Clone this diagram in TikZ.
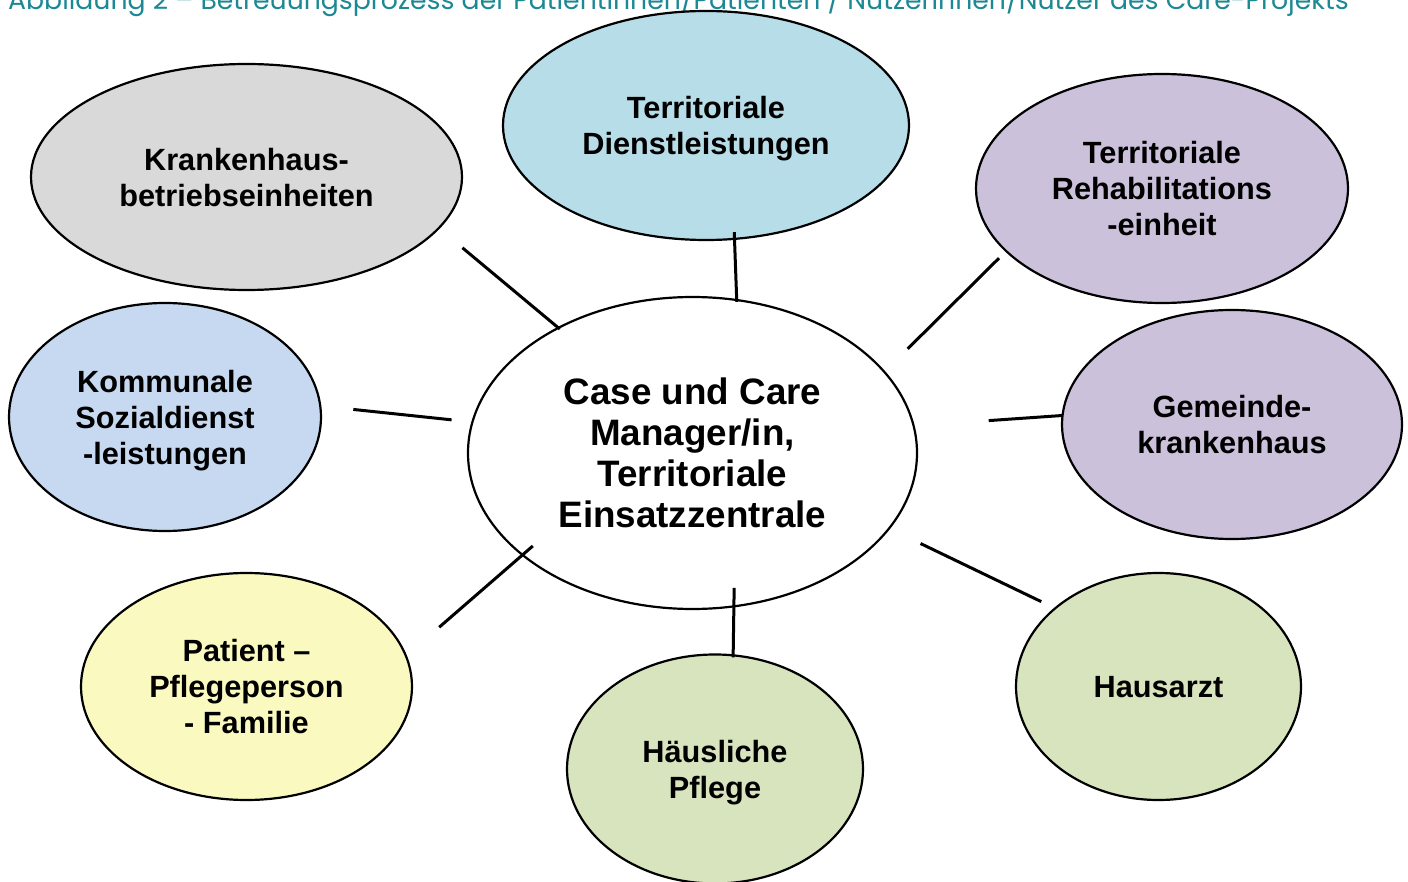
\documentclass[tikz,border=0pt]{standalone}
\usepackage{fontspec}
\setmainfont{Liberation Sans}
\newfontfamily\capfont{Poppins}
\usetikzlibrary{shapes.geometric}

\definecolor{capteal}{RGB}{28,136,148}
\definecolor{khgray}{RGB}{217,217,217}
\definecolor{tdblue}{RGB}{183,221,232}
\definecolor{trlilac}{RGB}{204,193,218}
\definecolor{ksblue}{RGB}{198,217,241}
\definecolor{pfyellow}{RGB}{250,250,192}
\definecolor{hpgreen}{RGB}{215,228,189}

\begin{document}
\begin{tikzpicture}[
x=1pt, y=-1pt,
font=\bfseries\fontsize{30.7}{36}\selectfont,
blob/.style={
    ellipse, draw=black, line width=2.2pt, inner sep=0pt, align=center, text depth=0pt},
link/.style={line width=3pt},
]

\useasboundingbox (0,0) rectangle (1408,882);
\clip (0,0) rectangle (1408,882);

\node[font=\capfont\fontsize{26.7}{30}\selectfont, text=capteal, anchor=base west, inner sep=0pt] (cap) at (8,10)
  {Abbildung 2 – Betreuungsprozess der Patientinnen/Patienten / Nutzerinnen/Nutzer des Care-Projekts};

\node[blob, fill=khgray, minimum width=431pt, minimum height=226pt] (kh) at (246.5,177) {Krankenhaus-\\betriebseinheiten};
\node[blob, fill=tdblue, minimum width=406pt, minimum height=229pt] (td) at (706,125.5) {Territoriale\\Dienstleistungen};
\node[blob, fill=trlilac, minimum width=372pt, minimum height=229pt] (tr) at (1162,188.5) {Territoriale\\Rehabilitations\\-einheit};
\node[blob, fill=ksblue, minimum width=312pt, minimum height=228pt] (ks) at (165,417) {Kommunale\\Sozialdienst\\-leistungen};
\node[blob, fill=white, minimum width=449pt, minimum height=312pt, font=\bfseries\fontsize{36.8}{41}\selectfont] (cc) at (692.5,453)
  {Case und Care\\Manager/in,\\Territoriale\\Einsatzzentrale};
\node[blob, fill=trlilac, minimum width=340pt, minimum height=229pt] (gk) at (1232,424.5) {Gemeinde-\\krankenhaus};
\node[blob, fill=pfyellow, minimum width=331pt, minimum height=227pt] (pf) at (246.5,686.5) {Patient –\\Pflegeperson\\- Familie};
\node[blob, fill=hpgreen, minimum width=296pt, minimum height=229pt] (hp) at (715,769) {Häusliche\\Pflege};
\node[blob, fill=hpgreen, minimum width=285pt, minimum height=227pt] (ha) at (1158.5,686.5) {Hausarzt};

\draw[link, shorten <=29.8pt, shorten >=-3pt] (kh.-15.1) -- (cc.137);
\draw[link, shorten <=-7.9pt, shorten >=-3pt] (td.-76.15) -- (cc.74.3);
\draw[link, shorten <=9pt, shorten >=31.8pt] (tr.-158.9) -- (cc.23.6);
\draw[link, shorten <=32.1pt, shorten >=19.9pt] (ks.4.5) -- (cc.172.7);
\draw[link, shorten <=-1pt, shorten >=74.2pt] (gk.177.5) -- (cc.7.7);
\draw[link, shorten <=42.9pt, shorten >=-14.7pt] (pf.11.1) -- (cc.-149);
\draw[link, shorten <=-3pt, shorten >=-19.6pt] (hp.81.3) -- (cc.-75.6);
\draw[link, shorten <=14.3pt, shorten >=33.8pt] (ha.143.2) -- (cc.-21.2);

\end{tikzpicture}
\end{document}
